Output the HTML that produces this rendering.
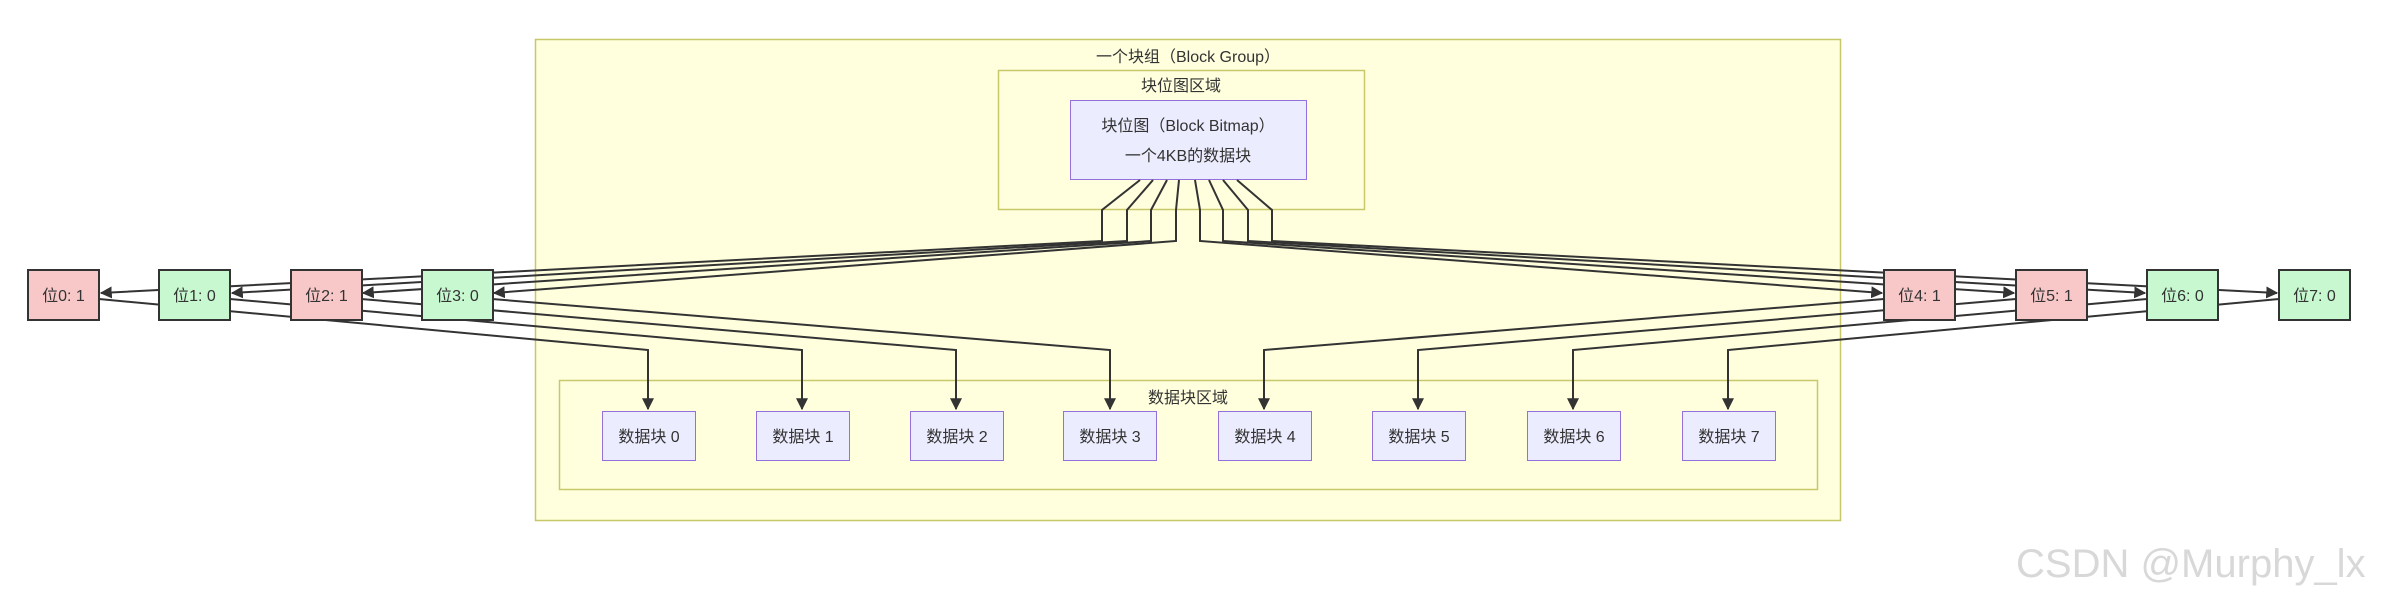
<!DOCTYPE html>
<html><head><meta charset="utf-8"><style>
html,body{margin:0;padding:0;background:#fff;}
svg text{font-family:"Liberation Sans","Noto Sans CJK SC",sans-serif;fill:#333;}
</style></head><body>
<svg width="2391" height="601" viewBox="0 0 2391 601" xmlns="http://www.w3.org/2000/svg">
<defs><marker id="a" viewBox="0 0 10 10" refX="9" refY="5" markerWidth="7" markerHeight="7" orient="auto-start-reverse" markerUnits="userSpaceOnUse"><path d="M0,0L10,5L0,10z" fill="#333"/></marker>
<marker id="b" viewBox="0 0 10 10" refX="9" refY="5" markerWidth="12" markerHeight="12" orient="auto" markerUnits="userSpaceOnUse"><path d="M0,0L10,5L0,10z" fill="#333"/></marker></defs>
<rect x="535.5" y="39.5" width="1305" height="481" fill="#ffffde" stroke="#c8c86a" stroke-width="1.5"/>
<text x="1188" y="62" font-size="16" text-anchor="middle">一个块组（Block Group）</text>
<rect x="998.5" y="70.5" width="366" height="139" fill="#ffffde" stroke="#c8c86a" stroke-width="1.5"/>
<text x="1181" y="91" font-size="16" text-anchor="middle">块位图区域</text>
<rect x="1070.5" y="100.5" width="236" height="79" fill="#ececff" stroke="#9370db" stroke-width="1"/>
<text x="1188" y="131" font-size="16" text-anchor="middle">块位图（Block Bitmap）</text>
<text x="1188" y="161" font-size="16" text-anchor="middle">一个4KB的数据块</text>
<rect x="559.5" y="380.5" width="1258" height="109" fill="#ffffde" stroke="#c8c86a" stroke-width="1.5"/>
<text x="1188" y="403" font-size="16" text-anchor="middle">数据块区域</text>
<g fill="none" stroke="#333" stroke-width="2">
<polyline points="1140,180 1102,210 1102,241 101,293" marker-end="url(#b)"/>
<polyline points="1153,180 1127,210 1127,241 232,293" marker-end="url(#b)"/>
<polyline points="1167,180 1151,210 1151,241 363,293" marker-end="url(#b)"/>
<polyline points="1179,180 1176,210 1176,241 494,293" marker-end="url(#b)"/>
<polyline points="1195,180 1200,210 1200,241 1882,293" marker-end="url(#b)"/>
<polyline points="1209,180 1223,210 1223,241 2014,293" marker-end="url(#b)"/>
<polyline points="1223,180 1248,210 1248,241 2145,293" marker-end="url(#b)"/>
<polyline points="1237,180 1272,210 1272,241 2277,293" marker-end="url(#b)"/>
<polyline points="99,299 648,350 648,409" marker-end="url(#b)"/>
<polyline points="230,299 802,350 802,409" marker-end="url(#b)"/>
<polyline points="361,299 956,350 956,409" marker-end="url(#b)"/>
<polyline points="492,299 1110,350 1110,409" marker-end="url(#b)"/>
<polyline points="1884,299 1264,350 1264,409" marker-end="url(#b)"/>
<polyline points="2016,299 1418,350 1418,409" marker-end="url(#b)"/>
<polyline points="2147,299 1573,350 1573,409" marker-end="url(#b)"/>
<polyline points="2279,299 1728,350 1728,409" marker-end="url(#b)"/>
</g>
<g stroke="#333" stroke-width="2">
<rect x="28" y="270" width="71" height="50" fill="#f8c8c8"/>
<rect x="159" y="270" width="71" height="50" fill="#c8f8d0"/>
<rect x="291" y="270" width="71" height="50" fill="#f8c8c8"/>
<rect x="422" y="270" width="71" height="50" fill="#c8f8d0"/>
<rect x="1884" y="270" width="71" height="50" fill="#f8c8c8"/>
<rect x="2016" y="270" width="71" height="50" fill="#f8c8c8"/>
<rect x="2147" y="270" width="71" height="50" fill="#c8f8d0"/>
<rect x="2279" y="270" width="71" height="50" fill="#c8f8d0"/>
</g>
<g font-size="16" text-anchor="middle">
<text x="63.5" y="301">位0: 1</text><text x="194.5" y="301">位1: 0</text>
<text x="326.5" y="301">位2: 1</text><text x="457.5" y="301">位3: 0</text>
<text x="1919.5" y="301">位4: 1</text><text x="2051.5" y="301">位5: 1</text>
<text x="2182.5" y="301">位6: 0</text><text x="2314.5" y="301">位7: 0</text>
</g>
<g fill="#ececff" stroke="#9370db" stroke-width="1">
<rect x="602.5" y="411.5" width="93" height="49"/><rect x="756.5" y="411.5" width="93" height="49"/>
<rect x="910.5" y="411.5" width="93" height="49"/><rect x="1063.5" y="411.5" width="93" height="49"/>
<rect x="1218.5" y="411.5" width="93" height="49"/><rect x="1372.5" y="411.5" width="93" height="49"/>
<rect x="1527.5" y="411.5" width="93" height="49"/><rect x="1682.5" y="411.5" width="93" height="49"/>
</g>
<g font-size="16" text-anchor="middle">
<text x="649" y="442">数据块 0</text><text x="803" y="442">数据块 1</text>
<text x="957" y="442">数据块 2</text><text x="1110" y="442">数据块 3</text>
<text x="1265" y="442">数据块 4</text><text x="1419" y="442">数据块 5</text>
<text x="1574" y="442">数据块 6</text><text x="1729" y="442">数据块 7</text>
</g>
<text x="2016" y="577" font-size="40" style="fill:#d8d8d8">CSDN @Murphy_lx</text>
</svg>
</body></html>
